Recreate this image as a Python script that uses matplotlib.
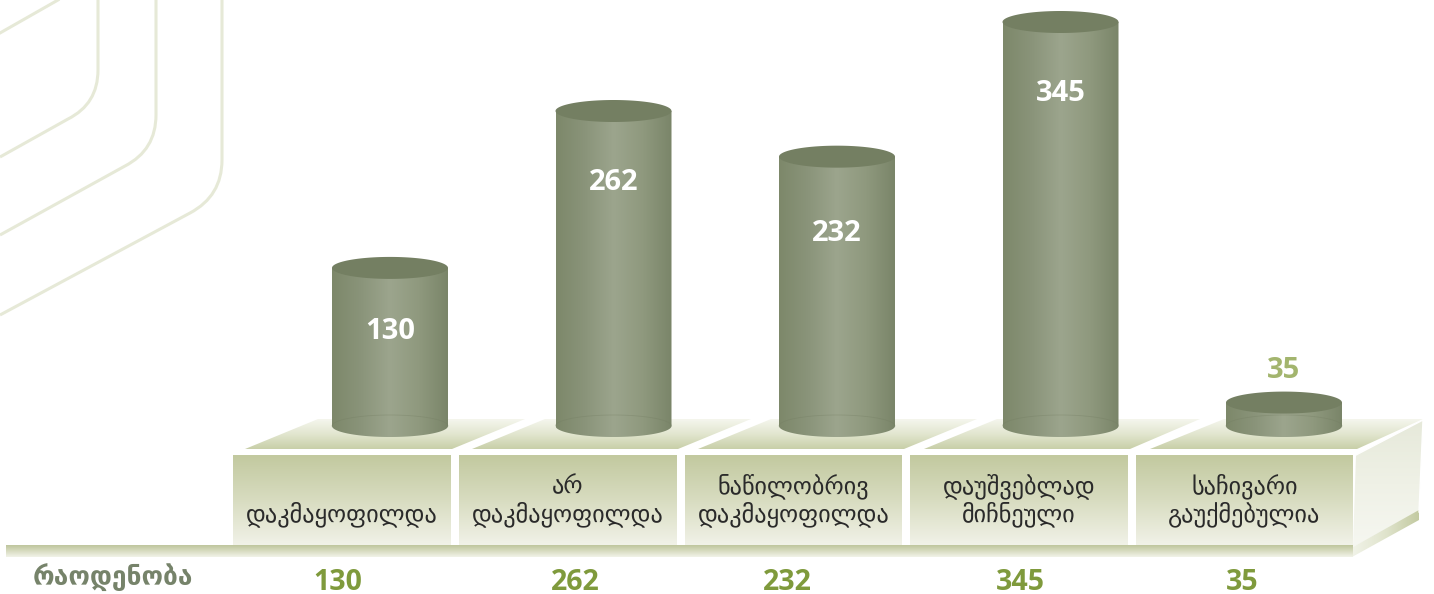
import matplotlib
matplotlib.use('Agg')
import matplotlib.pyplot as plt
import numpy as np
from matplotlib.colors import LinearSegmentedColormap
from matplotlib.patches import PathPatch, Polygon
from matplotlib.path import Path

# labels printed on the chart
categories = ['დაკმაყოფილდა', 'არ\nდაკმაყოფილდა', 'ნაწილობრივ\nდაკმაყოფილდა',
              'დაუშვებლად\nმიჩნეული', 'საჩივარი\nგაუქმებულია']
values = [130, 262, 232, 345, 35]
# cylinder heights as they are drawn in the picture, it is not quite linear to the labels
drawn_heights = [135, 269, 230, 345, 20]
row_label = 'რაოდენობა'

WIDTH, HEIGHT = 1434, 594
GEO = ['DejaVu Sans']
NUM = ['Open Sans', 'DejaVu Sans']

fig = plt.figure(figsize=(WIDTH / 100, HEIGHT / 100), dpi=100)
ax = fig.add_axes([0, 0, 1, 1])
ax.set_xlim(0, WIDTH)
ax.set_ylim(HEIGHT, 0)
ax.axis('off')


def gradient_fill(axis, verts, colors, vertical=True, zorder=2):
    verts = np.array(verts)
    cmap = LinearSegmentedColormap.from_list('g', colors)
    grad = np.linspace(0, 1, 256)
    grad = grad.reshape(-1, 1) if vertical else grad.reshape(1, -1)
    x0, x1 = verts[:, 0].min(), verts[:, 0].max()
    y0, y1 = verts[:, 1].min(), verts[:, 1].max()
    top, bottom = (y0, y1) if axis.yaxis_inverted() else (y1, y0)
    im = axis.imshow(grad, cmap=cmap, extent=(x0, x1, bottom, top), aspect='auto',
                     origin='upper', interpolation='bilinear', zorder=zorder)
    im.set_clip_path(Polygon(verts, closed=True, transform=axis.transData))
    return im


# background lines in the top left corner
line_color = '#e6e9d7'
ax.plot([0, 58], [33, 0], color=line_color, lw=2.2, zorder=1)
corners = [[(98, 0), (98, 70), (98, 104), (68, 119), (0, 157)],
           [(156, 0), (156, 115), (156, 150), (125, 166), (0, 235)],
           [(222, 0), (222, 160), (222, 196), (190, 213), (0, 315)]]
for c in corners:
    p = Path(c, [Path.MOVETO, Path.LINETO, Path.CURVE3, Path.CURVE3, Path.LINETO])
    ax.add_patch(PathPatch(p, fill=False, edgecolor=line_color, lw=2.2, zorder=1))

# platform: top faces, front cells
top_faces = [[(245, 449), (452, 449), (525, 419), (318, 419)],
             [(472, 449), (678, 449), (751, 419), (545, 419)],
             [(698, 449), (904, 449), (977, 419), (771, 419)],
             [(924, 449), (1130, 449), (1200, 419), (997, 419)],
             [(1150, 449), (1357, 449), (1423, 419), (1224, 419)]]
for face in top_faces:
    gradient_fill(ax, face, ['#f5f6ee', '#e2e6cf', '#c8cfa8'])

cells = [(233, 451), (459, 677), (685, 902), (910, 1128), (1136, 1353)]
for (x0, x1), name in zip(cells, categories):
    gradient_fill(ax, [(x0, 455), (x1, 455), (x1, 545), (x0, 545)],
                  ['#c2c99f', '#d8dcc0', '#f1f2e8'])
    lines = name.split('\n')
    if len(lines) == 1:
        lines = ['', lines[0]]
    ax.text((x0 + x1) / 2, 486, lines[0], family=GEO, fontsize=17.5, color='#2a2a2a',
            ha='center', va='center', zorder=5)
    ax.text((x0 + x1) / 2, 514, lines[1], family=GEO, fontsize=17.5, color='#2a2a2a',
            ha='center', va='center', zorder=5)

# right side of the platform
gradient_fill(ax, [(1356, 455), (1423, 420), (1419, 512), (1353, 547)],
              ['#e6e9da', '#eff1e6', '#f6f7f1'])
gradient_fill(ax, [(1353, 547), (1419, 510), (1419, 520), (1352, 557)],
              ['#f1f3e8', '#e0e4cd', '#c3caa1'], vertical=False)
ax.plot([1356, 1423, 1419], [455, 420, 512], color='white', lw=1, zorder=3)

# strip under the cells
gradient_fill(ax, [(6, 545), (1353, 545), (1353, 557), (6, 557)],
              ['#bec59c', '#d8dcc1', '#f2f3e9'])

# bottom row
ax.text(113, 578, row_label, family=GEO, fontweight='bold', fontsize=19, color='#76836a',
        ha='center', va='center', zorder=5)
for x, v in zip([338, 575, 787, 1020, 1242], values):
    ax.text(x, 582, str(v), family=NUM, fontweight='bold', fontsize=20.5, color='#7f9a3c',
            ha='center', va='center', zorder=5)

# cylinders in their own axes: x is category index, y is the drawn value
bar_ax = fig.add_axes([0, 0, 1, 1])
bar_ax.patch.set_alpha(0)
bar_ax.axis('off')
X_ZERO, X_STEP = 390, 223.5
Y_ZERO, Y_STEP = 426, 404 / 345
bar_ax.set_xlim(-X_ZERO / X_STEP, (WIDTH - X_ZERO) / X_STEP)
bar_ax.set_ylim((Y_ZERO - HEIGHT) / Y_STEP, Y_ZERO / Y_STEP)
bar_ax.set_autoscale_on(False)

half_w = 58 / X_STEP
ry = 11 / Y_STEP
t = np.linspace(0, np.pi, 60)
body_colors = ['#7d886a', '#8a947a', '#9ca58d', '#8f997e', '#7a8569']
# how far below the cylinder top the white number sits, pixels
label_drop = [64, 72, 77, 72]

for i, h in enumerate(drawn_heights):
    arc_x = i - half_w * np.cos(t)
    arc_low = -ry * np.sin(t)
    body = [(i - half_w, h)] + list(zip(arc_x, arc_low)) + [(i + half_w, h)]
    gradient_fill(bar_ax, body, body_colors, vertical=False, zorder=3)
    # faint back edge of the base
    bar_ax.plot(arc_x, ry * np.sin(t), color='#737d62', lw=0.6, alpha=0.35, zorder=4)
    # top ellipse
    ta = np.linspace(0, 2 * np.pi, 120)
    bar_ax.fill(i + half_w * np.cos(ta), h + ry * np.sin(ta), color='#747f62', lw=0, zorder=4)

for i, (h, v) in enumerate(zip(drawn_heights, values)):
    if v >= 100:
        bar_ax.text(i, h - label_drop[i] / Y_STEP, str(v), family=NUM, fontweight='bold', fontsize=21,
                    color='white', ha='center', va='center', zorder=6)
    else:
        bar_ax.text(i, h + 32 / Y_STEP, str(v), family=NUM, fontweight='bold', fontsize=21,
                    color='#a3b56e', ha='center', va='center', zorder=6)

fig.savefig('out.png', dpi=100)
